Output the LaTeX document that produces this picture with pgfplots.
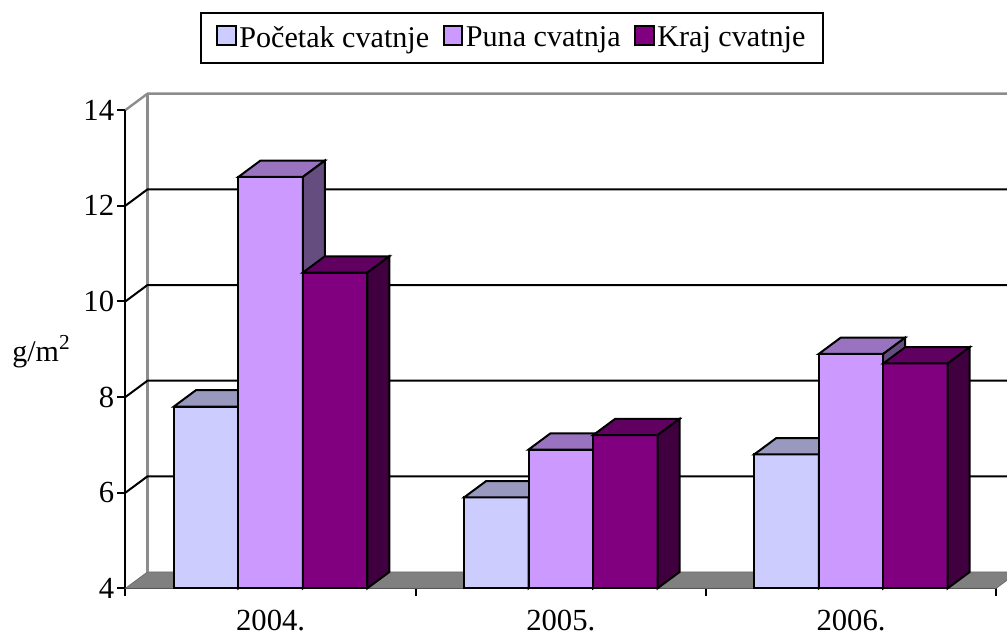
\documentclass[border=0pt]{standalone}
\usepackage{pgfplots}
\pgfplotsset{compat=1.18}
\usepackage{fontspec}
\setmainfont{Liberation Serif}
\definecolor{cA}{HTML}{CCCCFF}\definecolor{cAt}{HTML}{9999BF}\definecolor{cAs}{HTML}{666680}
\definecolor{cB}{HTML}{CC99FF}\definecolor{cBt}{HTML}{9973BF}\definecolor{cBs}{HTML}{664D80}
\definecolor{cC}{HTML}{800080}\definecolor{cCt}{HTML}{600060}\definecolor{cCs}{HTML}{400040}
\definecolor{wall}{HTML}{8C8C8C}\definecolor{floorc}{HTML}{808080}
\newcommand{\dx}{0.0758}\newcommand{\dy}{0.341}\newcommand{\bw}{0.2222}
\newcommand{\barfaces}[4]{%
 \pgfmathsetmacro\xa{#1}\pgfmathsetmacro\xb{#1+\bw}%
 \pgfmathsetmacro\xc{#1+\bw+\dx}\pgfmathsetmacro\xd{#1+\dx}\pgfmathsetmacro\yt{#2+\dy}\pgfmathsetmacro\yf{4+\dy}%
 \edef\temp{\noexpand\addplot[fill=#3,draw=black,line width=1.5pt,forget plot] coordinates {(\xa,#2)(\xb,#2)(\xc,\yt)(\xd,\yt)} --cycle;
 \noexpand\addplot[fill=#4,draw=black,line width=1.5pt,forget plot] coordinates {(\xb,#2)(\xc,\yt)(\xc,\yf)(\xb,4)} --cycle;}\temp}
\newcommand{\wallline}[1]{%
 \pgfmathsetmacro\yt{#1+\dy}%
 \edef\temp{\noexpand\addplot[black,line width=1.5pt,forget plot] coordinates {(0,#1)(\dx,\yt)(3.2,\yt)};}\temp}
\newcommand{\legsq}[1]{\draw[black,line width=1.5pt,fill=#1] (0pt,-5pt) rectangle (14pt,9pt);}
\begin{document}
\begin{tikzpicture}
\path[use as bounding box,clip] (0,0) rectangle (755.25pt,476.25pt);
\begin{axis}[
 at={(94.125pt,35.025pt)},anchor=origin,
 scale only axis,width=652.95pt,height=358.725pt,
 xmin=0,xmax=3,ymin=4,ymax=14,clip=false,
 axis x line=bottom,axis y line=left,
 axis line style={-,black,line width=1.5pt},
 tick align=outside,
 ytick={4,6,8,10,12,14},
 xtick={0.5,1.5,2.5},xticklabels={2004.,2005.,2006.},
 minor xtick={0,1,2,3},
 major x tick style={draw=none},
 minor x tick style={black,line width=1.5pt},
 y tick style={black,line width=1.5pt},
 major tick length=6pt,minor tick length=6pt,
 ticklabel style={font=\fontsize{23}{25}\selectfont,/pgf/number format/assume math mode=true},
 x tick label style={inner ysep=0pt,yshift=-10.5pt},
 y tick label style={xshift=1pt},
 every axis y label/.style={at={(rel axis cs:-0.097,0.4738)},anchor=base},
 ylabel={\fontsize{22.5}{24}\selectfont g/m\raisebox{9.5pt}{\fontsize{16}{16}\selectfont 2}},
 legend columns=3,
 legend style={at={(0.444,1.1505)},anchor=center,draw=black,line width=1.5pt,
   font=\fontsize{22.6}{25}\selectfont,inner xsep=11pt,inner ysep=8pt,
   /tikz/every even column/.append style={column sep=8pt}},
 legend cell align=left,
]
% walls and floor
\addplot[fill=floorc,draw=floorc!85!black,line width=0.6pt,forget plot] coordinates {(0,4)(3,4)(3.0758,4.341)(0.0758,4.341)} --cycle;
\addplot[wall,line width=1.8pt,forget plot] coordinates {(0,14)(0.0758,14.341)(3.2,14.341)};
\addplot[wall,line width=1.8pt,forget plot] coordinates {(0.0758,14.341)(0.0758,4.341)};
\wallline{6}\wallline{8}\wallline{10}\wallline{12}
% first series
\addplot[ybar,bar width=48.37pt,bar shift=0pt,fill=cA,draw=black,line width=1.5pt,legend image code/.code={\legsq{cA}}] coordinates {(0.2778,7.8)(1.2778,5.9)(2.2778,6.8)};
\barfaces{0.1667}{7.8}{cAt}{cAs}\barfaces{1.1667}{5.9}{cAt}{cAs}\barfaces{2.1667}{6.8}{cAt}{cAs}
\addlegendentry{Početak cvatnje}
% second series
\addplot[ybar,bar width=48.37pt,bar shift=0pt,fill=cB,draw=black,line width=1.5pt,legend image code/.code={\legsq{cB}}] coordinates {(0.5,12.6)(1.5,6.9)(2.5,8.9)};
\barfaces{0.3889}{12.6}{cBt}{cBs}\barfaces{1.3889}{6.9}{cBt}{cBs}\barfaces{2.3889}{8.9}{cBt}{cBs}
\addlegendentry{Puna cvatnja}
% third series
\addplot[ybar,bar width=48.37pt,bar shift=0pt,fill=cC,draw=black,line width=1.5pt,legend image code/.code={\legsq{cC}}] coordinates {(0.7222,10.6)(1.7222,7.2)(2.7222,8.7)};
\barfaces{0.6111}{10.6}{cCt}{cCs}\barfaces{1.6111}{7.2}{cCt}{cCs}\barfaces{2.6111}{8.7}{cCt}{cCs}
\addlegendentry{Kraj cvatnje}
\end{axis}
\end{tikzpicture}
\end{document}
